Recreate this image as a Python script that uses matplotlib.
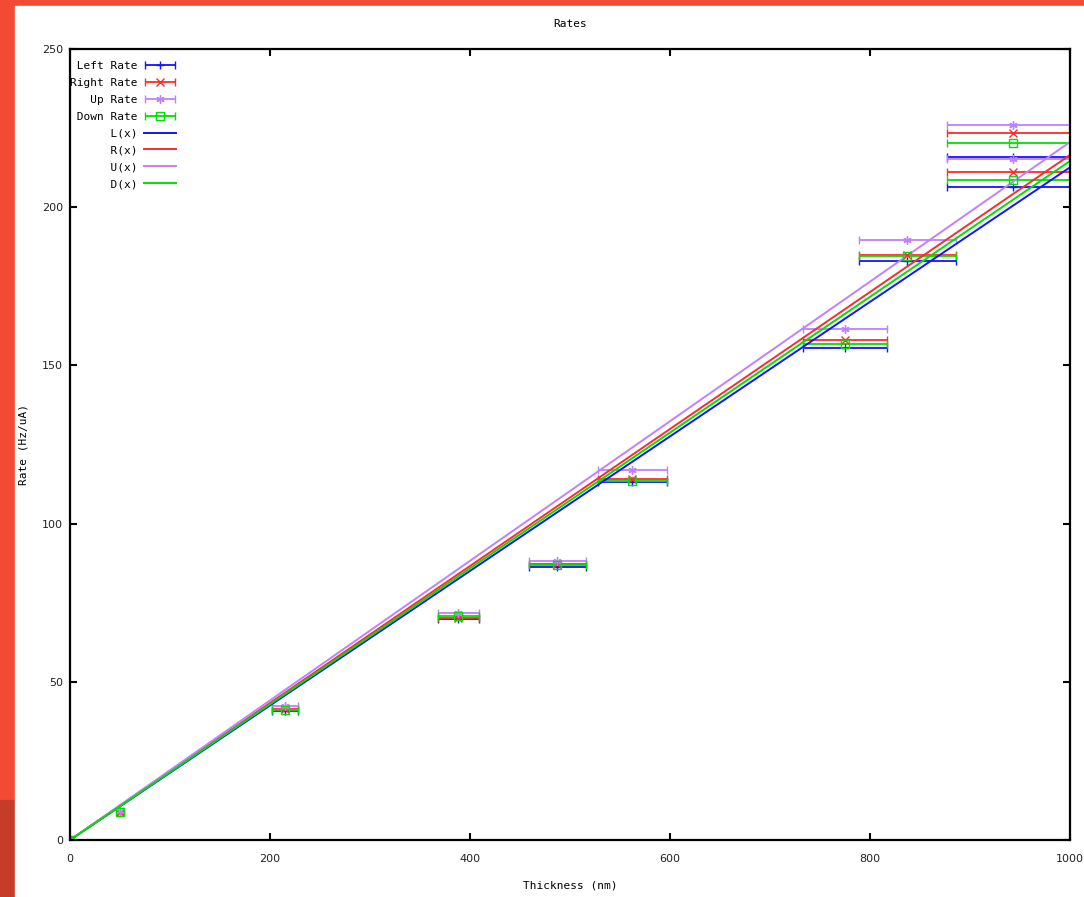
import numpy as np
import matplotlib
matplotlib.use("Agg")
import matplotlib.pyplot as plt
from matplotlib.patches import Rectangle
from matplotlib.legend_handler import HandlerErrorbar
from matplotlib.container import ErrorbarContainer

# 数据
thickness = [0, 50, 215, 388, 487, 562, 775, 837, 943, 943]
thick_err = [0, 3, 13, 20.5, 28.5, 34.5, 42, 48.5, 66, 66]
left_rate = [0, 8.8, 40.8, 69.8, 86.2, 113.0, 155.4, 183.0, 215.8, 206.3]
right_rate = [0, 9.0, 41.4, 70.3, 87.2, 114.1, 158.0, 184.9, 223.3, 211.2]
up_rate = [0, 9.3, 42.3, 71.8, 88.3, 116.9, 161.4, 189.6, 226.0, 215.1]
down_rate = [0, 9.0, 41.2, 70.8, 86.9, 113.6, 156.8, 184.5, 220.4, 208.7]

# 拟合直线 L(x), R(x), U(x), D(x) 在 x=0 和 x=1000 处的值
fit_x = [0, 1000]
fit_L = [0, 212.6]
fit_R = [0, 216.5]
fit_U = [0, 220.6]
fit_D = [0, 214.6]

c_blue = '#1414ff'
c_red = '#ff2a2a'
c_purple = '#c080ff'
c_green = '#00e000'

mono = 'DejaVu Sans Mono'

fig = plt.figure(figsize=(10.84, 8.97), dpi=100)
fig.patch.set_facecolor('#f24b33')
# 背景：白色区域 + 左下角深红
fig.patches.append(Rectangle((0, 0), 0.0138, 0.108, transform=fig.transFigure,
                             color='#c53d29', zorder=-5))
fig.patches.append(Rectangle((0.0138, 0), 1, 1 - 6 / 897, transform=fig.transFigure,
                             color='white', zorder=-5))

ax = fig.add_axes([70 / 1084, 1 - 840 / 897, 1000 / 1084, 791 / 897])

series = [
    ('Left Rate', left_rate, c_blue, '+', {}),
    ('Right Rate', right_rate, c_red, 'x', {}),
    ('Up Rate', up_rate, c_purple, (6, 2, 0), {}),
    ('Down Rate', down_rate, c_green, 's', {'markerfacecolor': 'none'}),
]
width = max(len(s[0]) for s in series)
handles = []
for name, vals, col, mk, extra in series:
    h = ax.errorbar(thickness, vals, xerr=thick_err, marker=mk, linestyle='none',
                    color=col, ecolor=col, markersize=6, markeredgewidth=1.0,
                    elinewidth=1.3, capsize=3, capthick=1.1,
                    label=name.rjust(width), **extra)
    handles.append(h)

fits = [('L(x)', fit_L, c_blue), ('R(x)', fit_R, c_red),
        ('U(x)', fit_U, c_purple), ('D(x)', fit_D, c_green)]
for name, vals, col in fits:
    h, = ax.plot(fit_x, vals, color=col, lw=1.4, label=name.rjust(width))
    handles.append(h)

ax.set_xlim(0, 1000)
ax.set_ylim(0, 250)
ax.set_xticks([0, 200, 400, 600, 800, 1000])
ax.set_yticks([0, 50, 100, 150, 200, 250])
ax.tick_params(direction='in', length=5, width=1.5, top=True, right=True,
               labelsize=8, pad=5, colors='black')
ax.tick_params(axis='x', pad=10)
for lab in ax.get_xticklabels() + ax.get_yticklabels():
    lab.set_color('#222222')
for sp in ax.spines.values():
    sp.set_linewidth(1.6)

ax.set_title('Rates', fontsize=8, family=mono, pad=16)
ax.set_xlabel('Thickness (nm)', fontsize=8, family=mono, labelpad=12)
ax.set_ylabel('Rate (Hz/uA)', fontsize=8, family=mono, labelpad=10)

leg = ax.legend(handles=handles, loc='upper left', bbox_to_anchor=(0.0, 0.985),
                frameon=False, markerfirst=False,
                prop={'family': mono, 'size': 8}, handlelength=2.9,
                labelspacing=0.62, handletextpad=0.6,
                borderaxespad=0, borderpad=0,
                handler_map={ErrorbarContainer: HandlerErrorbar(xerr_size=1.35)})

fig.savefig('out.png', dpi=100, facecolor=fig.get_facecolor())
